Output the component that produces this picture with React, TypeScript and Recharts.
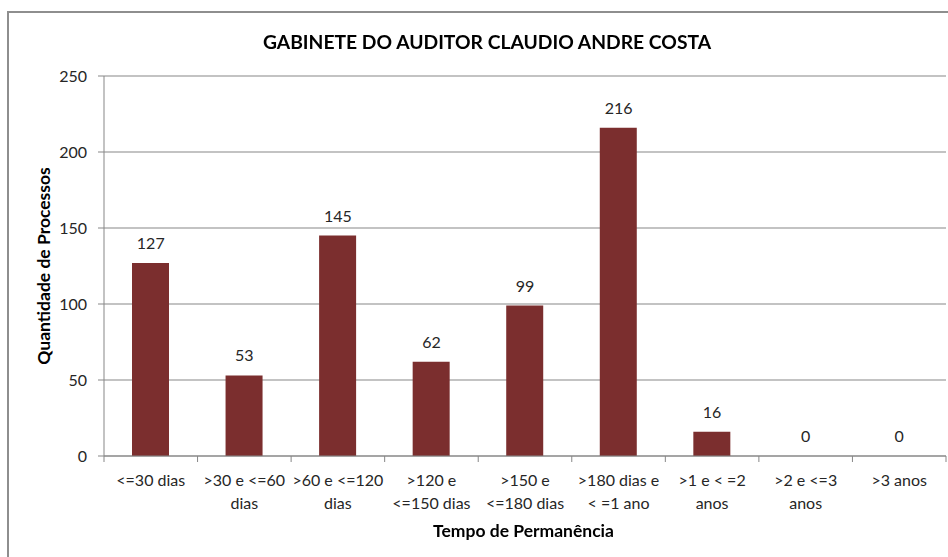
import { Bar, ComposedChart, CartesianGrid, LabelList, Line, XAxis, YAxis } from "recharts";

const CATEGORIES = [
  "<=30 dias",
  ">30 e <=60\ndias",
  ">60 e <=120\ndias",
  ">120 e\n<=150 dias",
  ">150 e\n<=180 dias",
  ">180 dias e\n< =1 ano",
  ">1 e < =2\nanos",
  ">2 e <=3\nanos",
  ">3 anos",
];
const VALUES = [127, 53, 145, 62, 99, 216, 16, 0, 0];
const Y_TICKS = [0, 50, 100, 150, 200, 250];

const BAR = "#7B2E2E";
const GRID = "#878787";
const TEXT = "#262626";
const FONT = "Lato, 'Open Sans', sans-serif";

const W = 948;
const H = 557;
const MARGIN = { top: 76, right: 2, left: 44, bottom: 41 };
const Y_WIDTH = 60;
const BAND = (W - MARGIN.left - Y_WIDTH - MARGIN.right) / CATEGORIES.length;

const data = CATEGORIES.map((name, i) => ({ name, value: VALUES[i] }));

function CategoryTick(props: any) {
  const { x, y, payload, index } = props;
  const lines = String(payload.value).split("\n");
  return (
    <g>
      <line x1={x - BAND / 2} x2={x - BAND / 2} y1={y} y2={y + 6} stroke={GRID} />
      {index === CATEGORIES.length - 1 && (
        <line x1={x + BAND / 2} x2={x + BAND / 2} y1={y} y2={y + 6} stroke={GRID} />
      )}
      {lines.map((l, i) => (
        <text key={i} x={x} y={y + 30 + i * 23} textAnchor="middle" fontSize={16} fill={TEXT} fontFamily={FONT}>
          {l}
        </text>
      ))}
    </g>
  );
}

export default function App() {
  return (
    <div style={{ position: "fixed", left: 0, top: 0, width: W, height: H, background: "#fff", fontFamily: FONT }}>
      <div
        style={{
          position: "absolute",
          left: 7,
          top: 11,
          width: W + 20,
          height: H + 20,
          borderTop: "2px solid #8e8e8e",
          borderLeft: "2px solid #8e8e8e",
        }}
      />
      <ComposedChart width={W} height={H} data={data} margin={MARGIN}>
        <CartesianGrid vertical={false} stroke={GRID} />
        <XAxis
          dataKey="name"
          interval={0}
          height={60}
          tickLine={false}
          tickSize={0}
          tickMargin={0}
          axisLine={{ stroke: GRID }}
          tick={<CategoryTick />}
        />
        <YAxis
          width={Y_WIDTH}
          domain={[0, 250]}
          ticks={Y_TICKS}
          tickSize={6}
          tickMargin={11}
          axisLine={{ stroke: GRID }}
          tickLine={{ stroke: GRID }}
          tick={{ fontSize: 16, fill: TEXT, fontFamily: FONT }}
        />
        <Bar dataKey="value" fill={BAR} barSize={37} isAnimationActive={false} />
        <Line dataKey="value" stroke="none" dot={false} activeDot={false} isAnimationActive={false}>
          <LabelList dataKey="value" position="top" offset={14} fontSize={16} fill={TEXT} fontFamily={FONT} />
        </Line>
      </ComposedChart>
      <div
        style={{
          position: "absolute",
          left: 0,
          width: 974,
          top: 30,
          textAlign: "center",
          fontWeight: 700,
          fontSize: 19.3,
          color: "#000",
          lineHeight: "24px",
        }}
      >
        GABINETE DO AUDITOR CLAUDIO ANDRE COSTA
      </div>
      <div
        style={{
          position: "absolute",
          left: 0,
          width: 1047,
          top: 520,
          textAlign: "center",
          fontWeight: 700,
          fontSize: 17.5,
          color: "#000",
          lineHeight: "22px",
        }}
      >
        Tempo de Permanência
      </div>
      <div
        style={{
          position: "absolute",
          left: 44,
          top: 266,
          transform: "translate(-50%, -50%) rotate(-90deg)",
          whiteSpace: "nowrap",
          fontWeight: 700,
          fontSize: 17.5,
          color: "#000",
          lineHeight: "22px",
        }}
      >
        Quantidade de Processos
      </div>
    </div>
  );
}
